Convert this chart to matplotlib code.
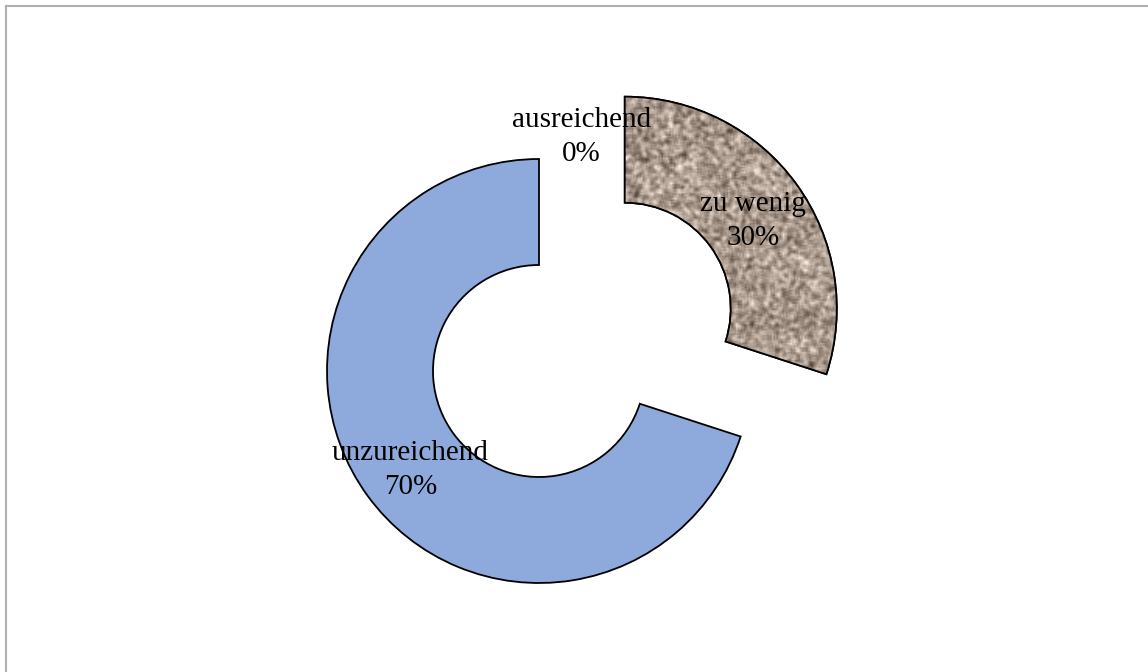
import matplotlib
matplotlib.use("Agg")
import matplotlib.pyplot as plt
from matplotlib.patches import Wedge
import numpy as np

labels = ["zu wenig", "unzureichend", "ausreichend"]
values = [30, 70, 0]
colors = ["#a89a8c", "#8eaadc", "#ffffff"]
explode = [0.5, 0.0, 0.0]

W, H = 1148, 672
fig = plt.figure(figsize=(W / 100, H / 100), dpi=100)
ax = fig.add_axes([0, 0, 1, 1])

total = sum(values)
pct = [f"{lab}\n{v / total * 100:.0f}%" for lab, v in zip(labels, values)]

wedges, texts = ax.pie(values, labels=pct, colors=colors, explode=explode,
                       startangle=90, counterclock=False, radius=1,
                       labeldistance=0.75,
                       wedgeprops=dict(width=0.5, edgecolor="black", linewidth=1.3),
                       textprops=dict(family="Liberation Serif", size=21,
                                      ha="center", va="center",
                                      linespacing=1.4))
wedges[2].set_linewidth(0)
texts[2].set_position((0.2, 1.13))
# nudge labels down a little, like excel does
for t in texts:
    x, y = t.get_position()
    t.set_position((x, y - 0.025))
    t.set_zorder(5)

# pie center at pixel (539, 371), radius 212 px
cx, cy, r = 539, H - 371, 212

# granite-like texture for "zu wenig"
rng = np.random.default_rng(3)
n = 300
noise = rng.random((n, n))
k = np.ones(3) / 3
noise = np.apply_along_axis(lambda m: np.convolve(m, k, mode="same"), 0, noise)
noise = np.apply_along_axis(lambda m: np.convolve(m, k, mode="same"), 1, noise)
noise = (noise - noise.mean()) / noise.std()
base = np.array([0.66, 0.60, 0.55])
img = np.clip(base[None, None, :] + 0.1 * noise[:, :, None], 0, 1)
w0 = wedges[0]
cxw, cyw = w0.center
im = ax.imshow(img, extent=(cxw - 1.1, cxw + 1.1, cyw - 1.1, cyw + 1.1),
               zorder=w0.get_zorder() + 0.1, interpolation="bilinear")
im.set_clip_path(w0)
edge = Wedge(w0.center, w0.r, w0.theta1, w0.theta2, width=w0.width,
             facecolor="none", edgecolor="black", linewidth=1.3,
             zorder=w0.get_zorder() + 0.2)
ax.add_patch(edge)

ax.set_xlim(-cx / r, (W - cx) / r)
ax.set_ylim(-cy / r, (H - cy) / r)
ax.set_aspect("equal")
ax.axis("off")

# frame lines (top and left)
fig.add_artist(plt.Line2D([5.5 / W, 1], [1 - 5.5 / H, 1 - 5.5 / H],
                          color="#b0b0b0", linewidth=1.5))
fig.add_artist(plt.Line2D([5.5 / W, 5.5 / W], [0, 1 - 5.5 / H],
                          color="#b0b0b0", linewidth=1.5))

fig.savefig("out.png", dpi=100)
